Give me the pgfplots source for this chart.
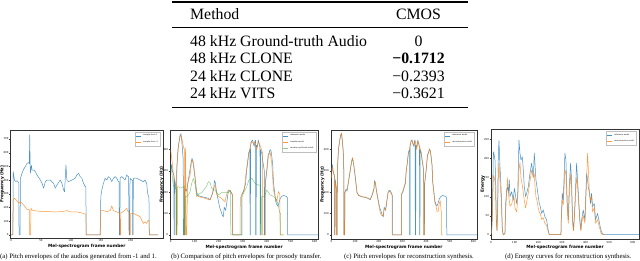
\documentclass[border=0pt]{standalone}
\usepackage{pgfplots}
\usepackage{pgfplotstable}
\pgfplotsset{compat=1.18}
\usepackage{fontspec}
\setmainfont{Liberation Serif}
\newfontfamily\dejavu{DejaVu Sans}
\definecolor{mblue}{RGB}{31,119,180}
\definecolor{morange}{RGB}{255,127,14}
\definecolor{mgreen}{RGB}{44,160,44}

\pgfplotstableread{
f hz
0 300
4 330
7 300
11 285
13 280
13.9 0
15 0
16 260
20 230
22 200
22.2 0
24 0
25 300
30 400
35 440
39 465
43 475
46 440
49 400
52 350
53 0
56 0
57 200
62 215
66 205
71 240
78 290
85 340
89 360
94 330
101 270
108 200
115 185
125 180
135 178
145 175
155 172
164 165
171 185
176 200
180 220
182 255
186 245
190 210
195 180
200 150
205 125
210 110
214 95
219 85
223 130
229 115
234 155
240 205
247 210
252 200
256 190
258 180
258.5 0
296 0
297 190
303 205
308 225
312 240
316 300
321 340
325 385
330 400
330.6 0
332 0
333 420
337 440
341 445
344 430
348 415
352 445
354 440
354.2 0
356 0
357 420
361 412
365 445
369 425
372 410
372.5 0
374 0
375 400
380 380
383 350
386 330
390 300
390.3 0
393 0
394 240
400 300
406 375
410 385
414 400
418 395
421 370
425 330
428 250
432 210
437 160
441 145
446 135
451 150
456 170
462 180
470 185
476 183
483 180
486 175
487.5 0
615 0
}\refpitch

\pgfplotsset{
 mpl/.style={
  scale only axis, anchor=north west,
  axis line style={line width=0.3pt, black!80},
  tick style={line width=0.25pt, black!80},
  tick align=outside, major tick length=1.2pt,
  xtick pos=bottom, ytick pos=left,
  ticklabel style={font=\dejavu\fontsize{2.6}{3}\selectfont, inner sep=0.6pt},
  /pgf/number format/assume math mode=true,
  label style={font=\dejavu\bfseries\fontsize{4.3}{5}\selectfont},
  xlabel style={inner sep=0.8pt, yshift=-0.8pt},
  ylabel style={inner sep=0pt, at={(axis description cs:-0.04,0.5)}, anchor=south},
  xlabel={Mel-spectrogram frame number},
  legend style={font=\dejavu\fontsize{1.9}{2.2}\selectfont, at={(0.985,0.985)}, anchor=north east, draw=black!25, inner sep=0.6pt, row sep=-0.6pt, cells={anchor=west}},
  legend image code/.code={\draw[#1, line width=0.6pt] (0pt,0pt) -- (5pt,0pt);},
  every axis plot/.append style={line width=0.5pt, line join=round, mark=none, opacity=0.8},
 },
}

\begin{document}
\begin{tikzpicture}
% ---------- table ----------
\draw[line width=1.2pt] (172pt,-2pt) -- (468pt,-2pt);
\draw[line width=0.6pt] (172pt,-27pt) -- (468pt,-27pt);
\draw[line width=1.2pt] (172pt,-107.5pt) -- (468pt,-107.5pt);
\begin{scope}[every node/.style={font=\fontsize{15.8}{18}\selectfont, inner sep=0pt}]
\node[anchor=base west] at (190pt,-19.5pt) {Method};
\node[anchor=base] at (418.5pt,-19.5pt) {CMOS};
\node[anchor=base west] at (190pt,-46.7pt) {48 kHz Ground-truth Audio};
\node[anchor=base] at (418.5pt,-46.7pt) {0};
\node[anchor=base west] at (190pt,-64pt) {48 kHz CLONE};
\node[anchor=base] at (418.5pt,-64pt) {\textbf{−0.1712}};
\node[anchor=base west] at (190pt,-81.5pt) {24 kHz CLONE};
\node[anchor=base] at (418.5pt,-81.5pt) {−0.2393};
\node[anchor=base west] at (190pt,-99pt) {24 kHz VITS};
\node[anchor=base] at (418.5pt,-99pt) {−0.3621};
\end{scope}

% ---------- (a) ----------
\begin{axis}[mpl, at={(10.5pt,-130pt)}, width=152.5pt, height=108pt,
  xmin=-1, xmax=254, ymin=-22, ymax=766,
  xtick={0,50,100,150,200}, ytick={0,100,200,300,400,500,600,700},
  ylabel={Frequency (Hz)}]
\addplot[mblue] coordinates {(0,0)(3,0)(3.5,462)(5.6,400)(8,390)(10,395)(12.8,380)(13.3,0)(15,0)(15.6,413)(18.3,450)(21,480)(23.9,499)(26.7,523)(29.4,528)(30.5,520)(31.1,730)(32.2,450)(33.9,510)(35,474)(37.8,474)(40.6,462)(43.3,438)(48.9,401)(51.7,377)(54.4,341)(57.2,389)(60,401)(65.6,401)(71.1,377)(73.9,341)(76.7,365)(82.2,401)(85,377)(87.8,328)(89.4,316)(91.7,511)(93.3,401)(96.1,389)(101.7,401)(107.2,414)(110,438)(112.8,450)(115.6,426)(118.3,414)(121.1,377)(123.9,353)(125,353)(125.6,0)(148.9,0)(150,280)(151.7,328)(154.4,377)(157.2,414)(160,401)(162.8,426)(165.6,414)(168.3,389)(171.1,414)(173.9,426)(176.7,414)(179.4,389)(180.5,389)(181.1,0)(182,0)(182.2,414)(185,426)(187.8,414)(190.6,401)(193.3,438)(195.6,426)(196.5,426)(197.2,0)(198,0)(198.9,414)(201.7,401)(203,401)(203.3,0)(204,0)(204.4,414)(210,414)(215.6,401)(221.1,389)(223.9,401)(226.7,377)(228.3,304)(230,280)(230.5,280)(231.1,0)(246,0)};
\addlegendentry{sample from 1}
\addplot[morange] coordinates {(0,0)(3,0)(3.5,255)(5.6,268)(8.9,255)(12.8,231)(15.6,243)(18.3,231)(22.2,212)(23.9,202)(26.7,187)(29.4,187)(30.5,180)(31.1,0)(32.5,0)(33.3,195)(35,182)(37.8,178)(43.3,175)(54.4,170)(65.6,170)(76.7,168)(87.8,173)(93.3,178)(98.9,168)(110,168)(121.1,158)(123.9,153)(125,150)(125.6,0)(149.5,0)(150,178)(154.4,178)(160,170)(165.6,178)(168.3,212)(171.1,178)(176.7,168)(179.4,163)(181.5,160)(182.2,0)(183,0)(183.5,163)(185,163)(190.6,182)(193.3,194)(195.6,170)(197.5,170)(198.3,0)(199.4,0)(200,158)(204.4,158)(210,146)(215.6,134)(218.3,109)(221.1,85)(223.9,97)(226.7,85)(229.4,109)(230.5,109)(231.1,0)(246,0)};
\addlegendentry{sample from -1}
\end{axis}

% ---------- (b) ----------
\begin{axis}[mpl, at={(170pt,-130pt)}, width=148.3pt, height=109pt,
  xmin=-3, xmax=615, ymin=-19, ymax=492,
  xtick={0,100,200,300,400,500,600}, ytick={0,100,200,300,400},
  ylabel={Frequency (Hz)}]
\addplot[mblue] table[x=f,y=hz] {\refpitch};
\addlegendentry{reference audio}
\addplot[morange] coordinates {(0,400)(5,350)(11,290)(15,270)(18,250)(22,230)(22.2,0)(25,0)(26,330)(32,414)(39,469)(43,460)(46,455)(50,430)(53,414)(56,400)(56.9,0)(59,0)(60,410)(62.5,380)(63,0)(66,0)(70.8,242)(80.6,281)(87.5,352)(94,345)(101,280)(108,188)(115,180)(122,178)(143,172)(164,164)(171,185)(178,219)(185,234)(192,188)(199,180)(212,172)(226,156)(233,190)(240,211)(247,205)(254,195)(258,190)(258.3,0)(288.9,0)(290,172)(299,195)(307,211)(312,273)(321,352)(326,383)(335,438)(344,430)(351,438)(358,398)(365,438)(372,420)(379,400)(383,383)(383.3,0)(393,0)(394,242)(400,290)(407,367)(414,391)(421,336)(428,211)(435,180)(442,156)(449,203)(455,190)(455.6,0)(470,0)};
\addlegendentry{transfer result}
\addplot[mgreen, opacity=0.55] coordinates {(0,330)(6,280)(11,230)(18,220)(24,215)(25,0)(27,0)(28,225)(32,227)(39,219)(46,222)(53,227)(56,219)(57,0)(60,0)(61,180)(67,180)(75,190)(81,205)(87,240)(94,265)(101,240)(108,180)(115,190)(122,195)(129,198)(143,219)(150,230)(157,250)(164,245)(171,219)(178,212)(185,210)(199,188)(212,198)(226,198)(240,198)(247,205)(250,205)(250.2,0)(296,0)(297,180)(303,195)(310,211)(317,227)(326,258)(338,266)(351,242)(365,234)(372,234)(375,234)(375.2,0)(378,0)(379,180)(390,180)(400,211)(414,188)(428,180)(442,164)(449,133)(455,102)(458,102)(458.3,0)(470,0)};
\addlegendentry{random synthesis result}
\end{axis}

% ---------- (c) ----------
\begin{axis}[mpl, at={(330.7pt,-130pt)}, width=146.3pt, height=109pt,
  xmin=-3, xmax=615, ymin=-19, ymax=492,
  xtick={0,100,200,300,400,500,600}, ytick={0,100,200,300,400},
  ylabel={Frequency (Hz)}]
\addplot[mblue] table[x=f,y=hz] {\refpitch};
\addlegendentry{reference audio}
\addplot[morange] coordinates {(0,266)(4,320)(7,300)(11,280)(13,275)(13.9,0)(15,0)(16,250)(20,225)(22,205)(22.2,0)(24,0)(25,310)(30,410)(35,445)(39,470)(43,478)(46,445)(49,410)(52,360)(53,0)(56,0)(57,195)(62,210)(66,212)(71,245)(78,295)(85,345)(89,362)(94,335)(101,268)(108,198)(115,186)(125,182)(135,177)(145,178)(155,170)(164,168)(171,182)(176,205)(180,218)(182,250)(186,240)(190,205)(195,175)(200,140)(205,110)(210,95)(214,90)(219,90)(223,125)(229,120)(234,160)(240,200)(247,205)(252,195)(256,185)(256.5,0)(296,0)(297,195)(303,210)(308,230)(312,245)(316,295)(321,345)(325,380)(330,405)(333,425)(337,445)(341,440)(344,425)(348,420)(352,440)(356,435)(360,400)(365,440)(369,430)(372,415)(375,405)(380,385)(383,355)(386,335)(388,310)(388.5,0)(393,0)(394,245)(400,305)(406,380)(410,380)(414,405)(418,390)(421,365)(425,325)(428,245)(432,205)(437,150)(441,140)(446,110)(451,110)(456,150)(460,160)(463,120)(465,100)(465.5,0)(470,0)};
\addlegendentry{reconstruction result}
\end{axis}

% ---------- (d) ----------
\begin{axis}[mpl, at={(491pt,-129.3pt)}, width=148pt, height=110pt,
  xmin=0, xmax=626, ymin=-12, ymax=277,
  xtick={0,100,200,300,400,500,600}, ytick={0,50,100,150,200,250},
  ylabel={Energy}]
\addplot[mblue] coordinates {(0,3)(2.8,12)(5.6,56)(9.9,214)(11.3,218)(16.9,196)(19.7,144)(22.5,39)(25.4,12)(28.2,82)(31,214)(33.8,247)(38,179)(42.3,126)(45,82)(47.9,12)(52,0)(59,4)(62,82)(66.2,118)(70.4,126)(73.2,109)(77.5,144)(80.3,100)(87.3,113)(94.4,91)(98.6,122)(101.4,113)(108.5,82)(112.7,100)(118.3,249)(122.5,214)(126.8,196)(132.4,205)(136.6,170)(140.8,126)(146.5,100)(150.7,109)(157.7,126)(164.8,161)(171.8,188)(178.9,153)(183.1,214)(185.9,188)(190.1,144)(194.4,126)(200,100)(204.2,82)(208.5,74)(214,56)(221,65)(228,47)(235,39)(242,12)(246.5,0)(295.8,0)(297,39)(301.4,109)(305.6,91)(312.7,214)(316.9,196)(322.5,82)(326.8,39)(331,126)(336.6,188)(340.8,144)(345,39)(349.3,12)(355,82)(362,188)(366.2,144)(371.8,82)(376,39)(380.3,12)(383.1,39)(390.1,65)(397.2,39)(404.2,161)(408.5,144)(411.3,126)(415.5,113)(421.1,82)(425.4,109)(429.6,74)(436.6,82)(442.3,39)(450.7,56)(456.3,39)(460.6,25)(464.8,12)(471.8,2)(480,0)(626,0)};
\addlegendentry{reference audio}
\addplot[morange] coordinates {(0,2)(2.8,8)(5.6,40)(9.9,150)(11.3,157)(16.9,140)(19.7,100)(22.5,30)(25.4,10)(28.2,60)(31,160)(33.8,188)(38,140)(42.3,100)(45,60)(47.9,10)(52,0)(59,2)(62,60)(66.2,110)(70.4,150)(73.2,110)(77.5,90)(80.3,75)(87.3,80)(94.4,100)(98.6,95)(101.4,70)(108.5,60)(112.7,90)(118.3,170)(122.5,190)(126.8,150)(132.4,130)(136.6,110)(140.8,90)(146.5,70)(150.7,85)(157.7,110)(164.8,140)(171.8,170)(178.9,150)(183.1,160)(185.9,130)(190.1,100)(194.4,90)(200,70)(204.2,60)(208.5,55)(214,40)(221,45)(228,30)(235,25)(242,8)(246.5,0)(295.8,0)(297,30)(301.4,90)(305.6,80)(312.7,170)(316.9,160)(322.5,70)(326.8,30)(331,100)(336.6,160)(340.8,120)(345,30)(349.3,10)(355,70)(362,150)(366.2,130)(371.8,70)(376,30)(380.3,10)(383.1,30)(390.1,50)(397.2,30)(404.2,140)(408.5,214)(411.3,180)(415.5,120)(421.1,90)(425.4,100)(429.6,60)(436.6,70)(442.3,30)(450.7,40)(456.3,25)(460.6,15)(464.8,5)(471.8,0)(480,0)};
\addlegendentry{reconstruction result}
\end{axis}

% ---------- captions ----------
\begin{scope}[every node/.style={font=\fontsize{6.75}{8}\selectfont, inner sep=0pt, anchor=base}]
\node at (78.5pt,-259pt) {(a) Pitch envelopes of the audios generated from -1 and 1.};
\node at (246.3pt,-259pt) {(b) Comparison of pitch envelopes for prosody transfer.};
\node at (409pt,-259pt) {(c) Pitch envelopes for reconstruction synthesis.};
\node at (568.3pt,-259pt) {(d) Energy curves for reconstruction synthesis.};
\end{scope}
\pgfresetboundingbox
\useasboundingbox (0pt,0pt) rectangle (640pt,-261pt);
\end{tikzpicture}
\end{document}
